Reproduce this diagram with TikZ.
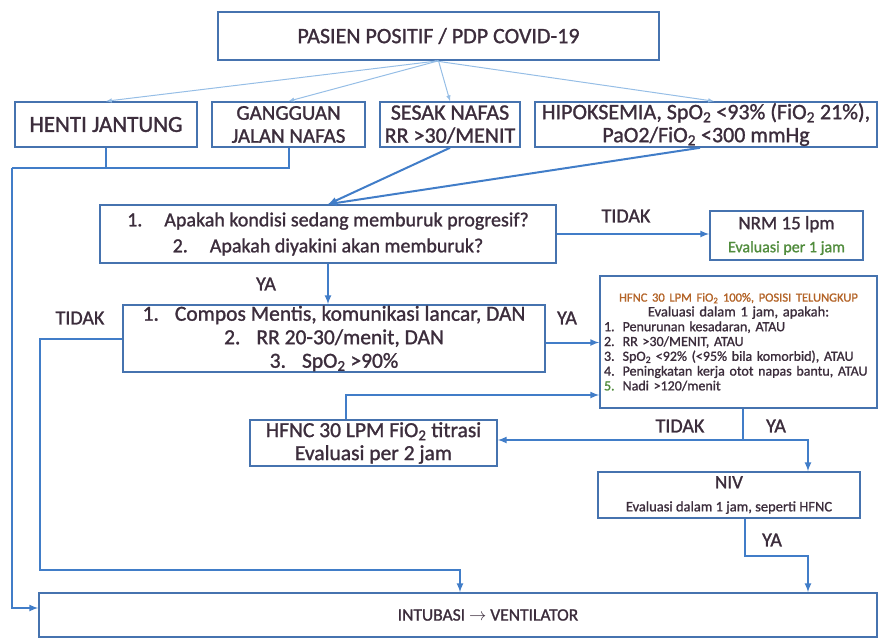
\documentclass[tikz,border=0pt]{standalone}
\usepackage{fontspec}
\setmainfont{Carlito}[UprightFeatures={FakeBold=1.2}]
\usetikzlibrary{arrows}

\definecolor{boxblue}{RGB}{70,115,175}
\definecolor{linkblue}{RGB}{65,125,200}
\definecolor{fanblue}{RGB}{150,190,230}
\definecolor{txt}{RGB}{60,45,60}
\definecolor{txtgreen}{RGB}{80,140,60}
\definecolor{txtorange}{RGB}{180,100,40}

\newcommand\bigtxt{\fontsize{22}{23}\selectfont}
\newcommand\midtxt{\fontsize{20}{23}\selectfont}
\newcommand\smalltxt{\fontsize{14.5}{17}\selectfont}
\newcommand\tinytxt{\fontsize{14}{14.8}\selectfont}

\tikzset{
  box/.style={draw=boxblue, line width=1.6pt, fill=white, align=center, text=txt, inner sep=0pt, font=\bigtxt},
  link/.style={draw=linkblue, line width=2pt},
  arr/.style={link, -latex},
  fan/.style={draw=fanblue, line width=1pt, -latex},
  lbl/.style={text=txt, font=\midtxt},
}

\begin{document}
\begin{tikzpicture}[x=1pt,y=-1pt]
      \useasboundingbox (0,0) rectangle (879,638);
      \node[box, minimum width=441pt, minimum height=48pt] (pasien) at (438.5,36) {PASIEN POSITIF / PDP COVID-19};
      \node[box, minimum width=182pt, minimum height=45pt, font=\fontsize{23}{24}\selectfont] (henti) at (106,124.5) {HENTI JANTUNG};
      \node[box, minimum width=153pt, minimum height=45pt, font=\fontsize{21}{23}\selectfont] (gangguan) at (288.5,124.5) {GANGGUAN\\JALAN NAFAS};
      \node[box, minimum width=140pt, minimum height=45pt] (sesak) at (450,124.5) {SESAK NAFAS\\RR >30/MENIT};
      \node[box, minimum width=342pt, minimum height=45pt] (hipoksemia) at (706,124.5) {HIPOKSEMIA, SpO\textsubscript{2} <93\% (FiO\textsubscript{2} 21\%),\\PaO2/FiO\textsubscript{2} <300 mmHg};
      \node[box, minimum width=456pt, minimum height=58pt, font=\fontsize{20}{26}\selectfont] (kondisi) at (328,234) {1.\hspace{22pt}Apakah kondisi sedang memburuk progresif?\\2.\hspace{22pt}Apakah diyakini akan memburuk?};
      \node[box, minimum width=153pt, minimum height=49pt] (nrm) at (786.5,235.5) {{\fontsize{19}{21}\selectfont NRM 15 lpm}\\{\color{txtgreen}\fontsize{16}{19}\selectfont Evaluasi per 1 jam}};
      \node[box, minimum width=422pt, minimum height=67pt, font=\fontsize{21.5}{23.5}\selectfont] (kriteria) at (334,338.5) {1.\hspace{16pt}Compos Mentis, komunikasi lancar, DAN\\2.\hspace{16pt}RR 20-30/menit, DAN\\3.\hspace{16pt}SpO\textsubscript{2} >90\%};
      \node[box, text width=269pt, minimum height=132pt, align=left, inner sep=4pt, font=\tinytxt] (hfnc) at (738.5,342) {{\centering{\color{txtorange}\fontsize{12.5}{17}\selectfont HFNC 30 LPM FiO\textsubscript{2} 100\%, POSISI TELUNGKUP}\\{\smalltxt Evaluasi dalam 1 jam, apakah:}\par}
        1.\hspace{8pt}Penurunan kesadaran, ATAU\\
        2.\hspace{8pt}RR >30/MENIT, ATAU\\
        3.\hspace{8pt}SpO\textsubscript{2} <92\% (<95\% bila komorbid), ATAU\\
        4.\hspace{8pt}Peningkatan kerja otot napas bantu, ATAU\\
        {\color{txtgreen}5.}\hspace{8pt}Nadi >120/menit};
      \node[box, minimum width=247pt, minimum height=46pt, font=\fontsize{21.5}{23}\selectfont] (titrasi) at (373.5,443) {HFNC 30 LPM FiO\textsubscript{2} titrasi\\Evaluasi per 2 jam};
      \node[box, minimum width=262pt, minimum height=46pt] (niv) at (729,495) {{\fontsize{19}{21}\selectfont NIV}\\{\smalltxt Evaluasi dalam 1 jam, seperti HFNC}};
      \node[box, minimum width=838pt, minimum height=44pt, font=\fontsize{17.5}{19}\selectfont] (intubasi) at (458,615) {\hspace*{60pt}INTUBASI $\rightarrow$ VENTILATOR};
      % dari pasien
      \draw[fan] (pasien.south) -- (henti.north);
      \draw[fan] (pasien.south) -- (gangguan.north);
      \draw[fan] (pasien.south) -- (sesak.north);
      \draw[fan] ([xshift=-4pt]pasien.south) -- ([xshift=8pt]hipoksemia.north);
      % jalur kiri
      \coordinate (kiri) at (12,168);
      \draw[link] (henti.south) |- (kiri);
      \draw[link] (gangguan.south) |- (kiri);
      \draw[arr] (kiri) |- ([yshift=7pt]intubasi.west);
      % ke pertanyaan
      \draw[arr] (sesak.south) -- (kondisi.north);
      \draw[arr] ([xshift=-6pt]hipoksemia.south) -- (kondisi.north);
      \draw[arr] (kondisi.east) -- (kondisi.east -| nrm.west);
      \node[lbl] (tidak1) at (626,216) {TIDAK};
      \draw[arr] (kondisi.south) -- (kondisi.south |- kriteria.north);
      \node[lbl] (ya1) at (266,284) {YA};
      \draw[arr] ([yshift=-4pt]kriteria.east) -- ([yshift=-4pt]kriteria.east -| hfnc.west);
      \node[lbl] (ya2) at (567,318) {YA};
      \node[lbl] (tidak2) at (80,318) {TIDAK};
      \coordinate (kiri2) at (40,570);
      \draw[arr] (kriteria.west) -| (kiri2) -| (460,0 |- intubasi.north);
      % hfnc
      \draw[arr] ([xshift=-28pt]titrasi.north) |- ([yshift=-53pt]hfnc.west);
      \coordinate (cabang) at (743,440);
      \draw[link] (cabang |- hfnc.south) -- (cabang);
      \draw[arr] (cabang) -- (cabang -| titrasi.east);
      \draw[arr] (cabang) -| ([xshift=79pt]niv.north);
      \node[lbl] (tidak3) at (680,426) {TIDAK};
      \node[lbl] (ya3) at (776,426) {YA};
      \draw[arr] ([xshift=16pt]niv.south) -- ++(0,37) -| (808,0 |- intubasi.north);
      \node[lbl] (ya4) at (772,540) {YA};
    \end{tikzpicture}
\end{document}
